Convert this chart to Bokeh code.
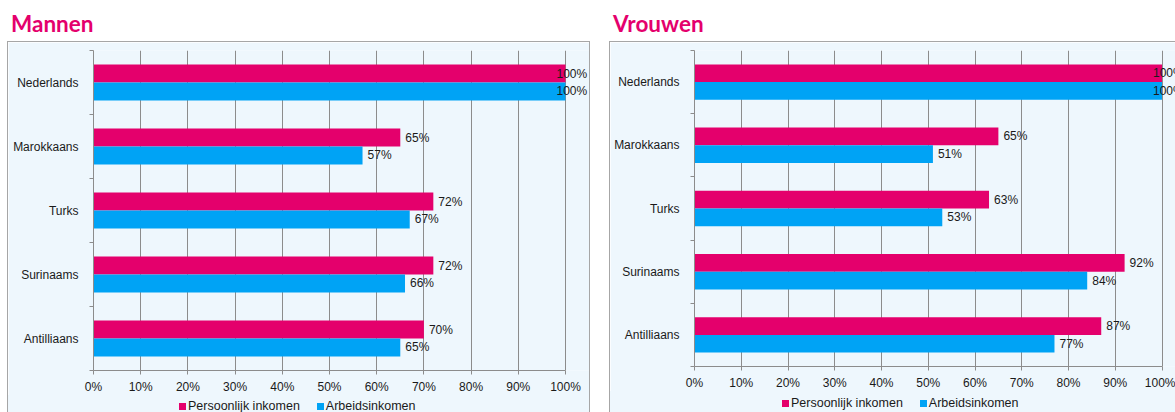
from bokeh.plotting import figure
from bokeh.models import (Range1d, FixedTicker, PrintfTickFormatter, Div,
                          ColumnDataSource)
from bokeh.layouts import row, column
from bokeh.embed import file_html
from bokeh.resources import INLINE
from bokeh.core.properties import value

# ---------------- data ----------------
categories = ["Nederlands", "Marokkaans", "Turks", "Surinaams", "Antilliaans"]
series_names = ["Persoonlijk inkomen", "Arbeidsinkomen"]
x_ticks = [0, 10, 20, 30, 40, 50, 60, 70, 80, 90, 100]

mannen_persoonlijk = [100, 65, 72, 72, 70]
mannen_arbeid = [100, 57, 67, 66, 65]
vrouwen_persoonlijk = [100, 65, 63, 92, 87]
vrouwen_arbeid = [100, 51, 53, 84, 77]

# ---------------- style ----------------
PINK = "#E4006C"
BLUE = "#00A3F5"
BG = "#EEF7FD"
GRID = "#8C8C8C"
BORDER = "#A6A6A6"
FONT = "Liberation Sans"
TITLE_FONT = "Lato"
BAR_H = 0.28


def make_panel(title, pers, arb, width, height, x_end, mb_left, mb_right,
               legend_h, legend_pad_left, legend_pad_top, right_border):
    n = len(categories)
    pos = [n - 1 - i for i in range(n)]

    fig_styles = {"border-top": f"1px solid {BORDER}",
                  "border-left": f"1px solid {BORDER}",
                  "border-right": f"1px solid {BORDER}" if right_border else "none",
                  "border-bottom": "none"}
    p = figure(width=width, height=height, output_backend="svg",
               toolbar_location=None, x_range=Range1d(0, x_end),
               y_range=Range1d(-0.5, n - 0.5),
               min_border_left=mb_left, min_border_right=mb_right,
               min_border_top=8, min_border_bottom=24,
               background_fill_color=BG, border_fill_color=BG,
               outline_line_color=None, margin=(0, 0, 0, 0),
               styles=fig_styles)

    src_p = ColumnDataSource(dict(y=[v + BAR_H / 2 for v in pos], x=pers))
    src_a = ColumnDataSource(dict(y=[v - BAR_H / 2 for v in pos], x=arb))
    p.hbar(y="y", left=0, right="x", height=BAR_H, source=src_p,
           fill_color=PINK, line_color=None)
    p.hbar(y="y", left=0, right="x", height=BAR_H, source=src_a,
           fill_color=BLUE, line_color=None)

    for src, vals in ((src_p, pers), (src_a, arb)):
        lab = ColumnDataSource(dict(
            x=vals, y=src.data["y"], t=[f"{v}%" for v in vals],
            off=[-9 if v >= 100 else 5 for v in vals]))
        p.text(x="x", y="y", text="t", x_offset="off", source=lab,
               text_baseline="middle", text_align="left",
               text_font=value(FONT), text_font_size="12px",
               text_color="#1A1A1A")

    # x axis
    xa = p.xaxis[0]
    xa.ticker = FixedTicker(ticks=x_ticks)
    xa.formatter = PrintfTickFormatter(format="%d%%")
    xa.bounds = (0, 100)
    xa.axis_line_color = GRID
    xa.major_tick_line_color = GRID
    xa.major_tick_out = 4
    xa.major_tick_in = 0
    xa.minor_tick_line_color = None
    xa.major_label_standoff = 5
    xa.major_label_text_font = FONT
    xa.major_label_text_font_size = "12px"
    xa.major_label_text_color = "#1A1A1A"

    # y axis
    ya = p.yaxis[0]
    ya.ticker = FixedTicker(ticks=pos, minor_ticks=[v - 0.5 for v in pos] + [n - 0.5])
    ya.major_label_overrides = {pos[i]: categories[i] for i in range(n)}
    ya.axis_line_color = GRID
    ya.major_tick_line_color = None
    ya.major_tick_out = 0
    ya.major_tick_in = 0
    ya.minor_tick_line_color = GRID
    ya.minor_tick_out = 4
    ya.minor_tick_in = 0
    ya.major_label_standoff = 11
    ya.major_label_text_font = FONT
    ya.major_label_text_font_size = "12px"
    ya.major_label_text_color = "#1A1A1A"

    p.xgrid.grid_line_color = GRID
    p.xgrid.grid_line_width = 1
    p.ygrid.grid_line_color = None

    sq = "display:inline-block;width:7px;height:7px;vertical-align:0px;"
    legend_html = (
        f'<div style="font-family:\'{FONT}\';font-size:12.5px;line-height:14px;'
        f'color:#1A1A1A;white-space:nowrap;padding-left:{legend_pad_left}px;'
        f'padding-top:{legend_pad_top}px;">'
        f'<span style="{sq}background:{PINK};margin-right:2px;"></span>{series_names[0]}'
        f'<span style="{sq}background:{BLUE};margin-left:17px;margin-right:2px;"></span>{series_names[1]}'
        f'</div>')
    leg_styles = {"background-color": BG, "overflow": "hidden",
                  "border-left": f"1px solid {BORDER}",
                  "border-right": f"1px solid {BORDER}" if right_border else "none",
                  "box-sizing": "border-box"}
    legend = Div(text=legend_html, width=width, height=legend_h,
                 margin=(0, 0, 0, 0), styles=leg_styles)

    div = Div(text=f'<span style="font-family:\'{TITLE_FONT}\';font-weight:700;'
                   f'font-size:22.5px;color:{PINK};padding-left:4px;">{title}</span>',
              width=width, height=33, margin=(0, 0, 0, 0))
    return column(div, p, legend, spacing=0)


left = make_panel("Mannen", mannen_persoonlijk, mannen_arbeid,
                  583, 354, 105.3, 85, 1, 17, 171, 4, True)
right = make_panel("Vrouwen", vrouwen_persoonlijk, vrouwen_arbeid,
                   566, 350, 103.1, 84, 0, 21, 172, 5, False)
layout = row(left, right, spacing=19, margin=(8, 0, 0, 7))

open("out.html", "w").write(file_html(layout, INLINE))
